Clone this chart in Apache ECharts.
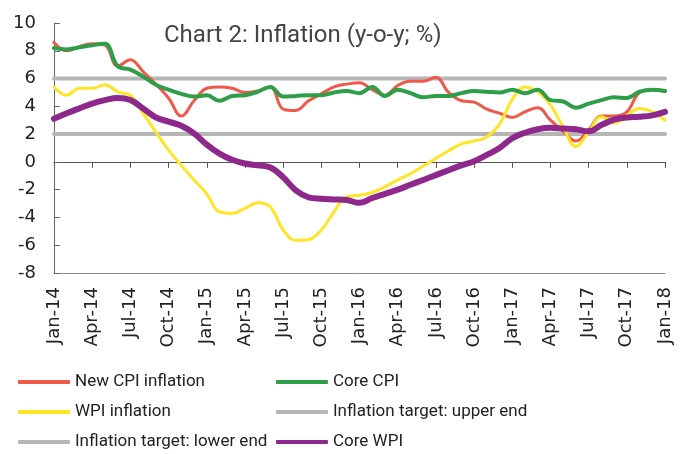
<!DOCTYPE html>
<html>
<head>
<meta charset="utf-8">
<script src="https://cdn.jsdelivr.net/npm/echarts@6/dist/echarts.min.js"></script>
<style>
  html, body { margin: 0; padding: 0; background: #fff; }
  #chart { width: 695px; height: 454px; }
</style>
</head>
<body>
<div id="chart"></div>
<script>
// monthly categories, Jan-14 .. Jan-18
const monthNames = ["Jan", "Feb", "Mar", "Apr", "May", "Jun", "Jul", "Aug", "Sep", "Oct", "Nov", "Dec"];
const years = ["14", "15", "16", "17", "18"];
const months = [];
years.forEach((y) => {
  monthNames.forEach((m) => {
    if (months.length < 49) months.push(m + "-" + y);
  });
});

// values (y-o-y, %)
const newCpi = [8.6, 8.0, 8.3, 8.5, 8.4, 6.9, 7.35, 6.5, 5.6, 4.6, 3.3, 4.4, 5.3,
  5.4, 5.3, 5.0, 5.1, 5.4, 3.8, 3.7, 4.4, 4.9, 5.4, 5.6, 5.7,
  5.2, 4.8, 5.5, 5.8, 5.8, 6.1, 5.0, 4.4, 4.3, 3.8, 3.5, 3.2,
  3.6, 3.9, 3.0, 2.2, 1.5, 2.3, 3.3, 3.3, 3.6, 5.0, 5.2, 5.1];

const coreCpi = [8.2, 8.1, 8.25, 8.4, 8.5, 6.9, 6.65, 6.15, 5.55, 5.2, 4.9, 4.7, 4.8,
  4.4, 4.75, 4.8, 5.05, 5.4, 4.7, 4.75, 4.8, 4.8, 5.0, 5.1, 4.95,
  5.4, 4.75, 5.2, 4.95, 4.65, 4.75, 4.75, 4.95, 5.1, 5.05, 5.0, 5.2,
  4.95, 5.2, 4.45, 4.35, 3.9, 4.2, 4.45, 4.65, 4.6, 5.05, 5.2, 5.1];

const wpi = [5.4, 4.8, 5.3, 5.3, 5.55, 5.05, 4.8, 3.5, 2.15, 0.85, -0.25, -1.3, -2.3,
  -3.6, -3.7, -3.35, -2.95, -3.25, -4.9, -5.65, -5.6, -4.9, -3.6, -2.5, -2.4,
  -2.2, -1.8, -1.3, -0.85, -0.3, 0.25, 0.8, 1.3, 1.5, 1.8, 2.7, 4.5,
  5.4, 5.05, 4.1, 2.5, 1.1, 2.15, 3.25, 2.8, 3.35, 3.85, 3.6, 3.0];

const coreWpi = [3.1, 3.5, 3.85, 4.2, 4.45, 4.6, 4.45, 3.85, 3.2, 2.9, 2.6, 2.05, 1.25,
  0.6, 0.15, -0.12, -0.25, -0.4, -1.1, -2.05, -2.55, -2.65, -2.7, -2.75, -2.95,
  -2.6, -2.3, -2.0, -1.65, -1.3, -0.95, -0.6, -0.25, 0.05, 0.5, 1.0, 1.7,
  2.1, 2.35, 2.45, 2.4, 2.35, 2.2, 2.65, 3.05, 3.2, 3.25, 3.35, 3.6];

const targetUpper = 6;
const targetLower = 2;

const yMin = -8;
const yMax = 10;
const yStep = 2;

const chart = echarts.init(document.getElementById("chart"));

const axisFont = "DejaVu Sans";
const textFont = "Roboto";

const lineSeries = (name, data, color, width, z) => ({
  name: name,
  type: "line",
  data: data,
  smooth: 0.4,
  showSymbol: false,
  symbol: "none",
  z: z,
  lineStyle: { width: width, color: color, cap: "round" },
  itemStyle: { color: color },
});

// one legend per entry so the 3x2 layout is exact
const legendItem = (name, left, top) => ({
  left: left,
  top: top,
  padding: 0,
  itemWidth: 52,
  itemHeight: 4,
  icon: "roundRect",
  data: [name],
  textStyle: { fontFamily: textFont, fontSize: 17, color: "#222", lineHeight: 20 },
});

const option = {
  animation: false,
  title: {
    text: "Chart 2: Inflation (y-o-y; %)",
    left: 159,
    top: 19,
    textStyle: { fontFamily: textFont, fontSize: 24, fontWeight: "normal", color: "#444" },
  },
  legend: [
    legendItem("New CPI inflation", 18, 372),
    legendItem("Core CPI", 276, 372),
    legendItem("WPI inflation", 18, 402),
    legendItem("Inflation target: upper end", 276, 402),
    legendItem("Inflation target: lower end", 18, 432),
    legendItem("Core WPI", 276, 432),
  ],
  grid: {
    left: 54,
    right: 30,
    top: 23,
    bottom: 181,
    containLabel: false,
    outerBoundsMode: "none",
  },
  xAxis: [
    {
      type: "category",
      data: months,
      boundaryGap: false,
      position: "bottom",
      axisLine: { onZero: false, lineStyle: { color: "#888", width: 1 } },
      axisTick: { show: false },
      splitLine: { show: false },
      axisLabel: {
        interval: 2,
        rotate: 90,
        margin: 14,
        fontFamily: axisFont,
        fontSize: 18,
        color: "#222",
      },
    },
    {
      type: "category",
      data: months,
      boundaryGap: false,
      position: "top",
      axisLine: { onZero: true, lineStyle: { color: "#555", width: 1 } },
      axisTick: { show: true, inside: true, interval: 2, length: 6, lineStyle: { color: "#555" } },
      axisLabel: { show: false },
      splitLine: { show: false },
    },
  ],
  yAxis: {
    type: "value",
    min: yMin,
    max: yMax,
    interval: yStep,
    axisLine: { show: true, onZero: false, lineStyle: { color: "#666", width: 1 } },
    axisTick: { show: true, inside: true, length: 6, lineStyle: { color: "#666" } },
    splitLine: { show: false },
    axisLabel: { fontFamily: axisFont, fontSize: 18, color: "#222", margin: 18 },
  },
  series: [
    lineSeries("Inflation target: upper end", months.map(() => targetUpper), "#B6B6B6", 4, 1),
    lineSeries("Inflation target: lower end", months.map(() => targetLower), "#B6B6B6", 4, 1),
    lineSeries("New CPI inflation", newCpi, "#F0584A", 3, 2),
    lineSeries("WPI inflation", wpi, "#FFE526", 3, 3),
    lineSeries("Core CPI", coreCpi, "#2E9F48", 4, 4),
    lineSeries("Core WPI", coreWpi, "#8E288C", 6, 5),
  ],
};

chart.setOption(option);
</script>
</body>
</html>
